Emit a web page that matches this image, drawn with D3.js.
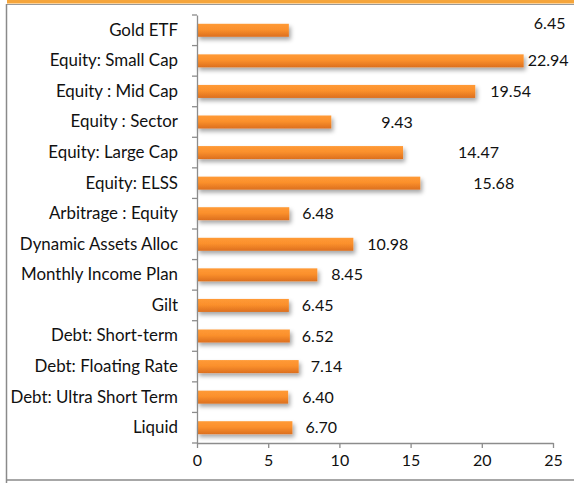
<!DOCTYPE html>
<html><head><meta charset="utf-8">
<script src="https://cdn.jsdelivr.net/npm/d3@7/dist/d3.min.js"></script>
<style>
html,body{margin:0;padding:0;background:#fff;}
svg{display:block;}
svg text{font-family:Lato,"Open Sans",sans-serif;}
</style></head><body>
<svg id="c" width="574" height="483"></svg>
<script>
const categories = ["Gold ETF","Equity: Small Cap","Equity : Mid Cap","Equity : Sector","Equity: Large Cap","Equity: ELSS","Arbitrage : Equity","Dynamic Assets Alloc","Monthly Income Plan","Gilt","Debt: Short-term","Debt: Floating Rate","Debt: Ultra Short Term","Liquid"];
const values = [6.45,22.94,19.54,9.43,14.47,15.68,6.48,10.98,8.45,6.45,6.52,7.14,6.40,6.70];
const xTicks = [0,5,10,15,20,25];
// manual label nudges (px) as placed in the original
const labelDx = [245,4,15,50,55,53,13,14,14,13,12,12,14,13];
const labelDy = [-7,0,0,0,0,0,0,0,0,0,0,0,0,0];

const FS = 16, CFS = 16.9;
const svg = d3.select("#c");
const defs = svg.append("defs");
const g1 = defs.append("linearGradient").attr("id","bar").attr("x1",0).attr("y1",0).attr("x2",0).attr("y2",1);
g1.append("stop").attr("offset","0%").attr("stop-color","#ff9a36");
g1.append("stop").attr("offset","45%").attr("stop-color","#fb902c");
g1.append("stop").attr("offset","100%").attr("stop-color","#dc6f1e");
const f = defs.append("filter").attr("id","sh").attr("x","-10%").attr("y","-50%").attr("width","130%").attr("height","250%");
f.append("feDropShadow").attr("dx",2).attr("dy",3).attr("stdDeviation",2).attr("flood-color","#000").attr("flood-opacity",0.35);

// header band & frame
svg.append("rect").attr("x",7).attr("y",0).attr("width",567).attr("height",3.5).attr("fill","#f5a53b");
svg.append("line").attr("x1",7).attr("x2",574).attr("y1",4.5).attr("y2",4.5).attr("stroke","#9a9a9a").attr("stroke-width",1.2);
svg.append("line").attr("x1",6.5).attr("x2",6.5).attr("y1",4).attr("y2",483).attr("stroke","#8a8a8a").attr("stroke-width",1.5);
svg.append("line").attr("x1",7).attr("x2",574).attr("y1",480).attr("y2",480).attr("stroke","#8a8a8a").attr("stroke-width",1.5);

const x = d3.scaleLinear().domain([0,25]).range([197,553]);
const y = d3.scaleBand().domain(categories).range([15,443]).paddingInner(0.575).paddingOuter(0.2875);

// bars
svg.append("g").selectAll("rect").data(values).join("rect")
  .attr("x",x(0)).attr("y",(d,i)=>y(categories[i]))
  .attr("width",d=>x(d)-x(0)).attr("height",y.bandwidth())
  .attr("fill","url(#bar)").attr("filter","url(#sh)");

// axes
const yAxis = d3.axisLeft(y).tickSize(0).tickPadding(19);
const gy = svg.append("g").attr("transform",`translate(${x(0)},0)`).call(yAxis);
gy.attr("font-family",null).attr("font-size",null);
gy.select(".domain").attr("stroke","#8c8c8c").attr("stroke-width",1.3);
gy.selectAll("text").attr("font-size",CFS).attr("fill","#111");
// category boundary ticks
const bounds = d3.range(categories.length+1).map(i=>y.range()[0]+i*(y.range()[1]-y.range()[0])/categories.length);
svg.append("g").selectAll("line").data(bounds).join("line")
  .attr("x1",x(0)-5).attr("x2",x(0)).attr("y1",d=>d).attr("y2",d=>d)
  .attr("stroke","#8c8c8c").attr("stroke-width",1.3);

const xAxis = d3.axisBottom(x).tickValues(xTicks).tickSize(5).tickSizeOuter(0).tickPadding(7);
const gx = svg.append("g").attr("transform","translate(0,443)").call(xAxis);
gx.attr("font-family",null).attr("font-size",null);
gx.select(".domain").attr("stroke","#8c8c8c").attr("stroke-width",1.3);
gx.selectAll("line").attr("stroke","#8c8c8c").attr("stroke-width",1.3);
gx.selectAll("text").attr("font-size",FS).attr("fill","#111");

// value labels
svg.append("g").selectAll("text").data(values).join("text")
  .attr("x",(d,i)=>x(d)+labelDx[i])
  .attr("y",(d,i)=>y(categories[i])+y.bandwidth()/2+labelDy[i])
  .attr("dy","0.35em").attr("font-size",FS).attr("fill","#111")
  .text(d=>d.toFixed(2));
</script>
</body></html>
